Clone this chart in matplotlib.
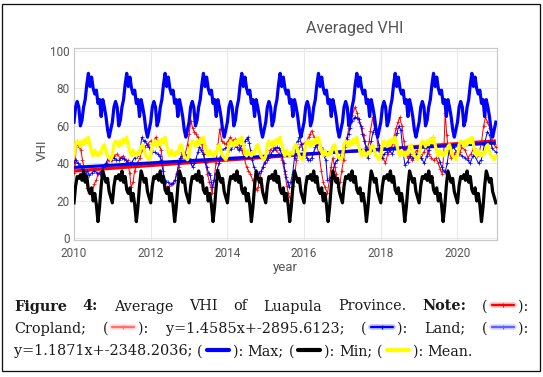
import numpy as np
import matplotlib
matplotlib.use("Agg")
import matplotlib.pyplot as plt
from matplotlib.lines import Line2D
from matplotlib.patches import Rectangle

# ---------------- data ----------------
years_start = 2010
n_years = 11
steps_per_year = 24

# one-year profiles (the chart repeats them every year)
max_profile = [62, 70, 73, 70, 60, 63, 70, 74, 82, 88, 81, 86,
               80, 77, 79, 72, 74, 65, 74, 70, 65, 58, 54, 58]
min_profile = [19, 28, 33, 32, 34, 31, 36, 30, 33, 26, 24, 27,
               20, 24, 18, 9, 17, 28, 36, 33, 30, 32, 25, 22]
mean_profile = [44, 50, 52, 51, 49, 52, 50, 53, 51, 54, 50, 46,
                44, 47, 45, 44, 46, 45, 49, 50, 47, 44, 43, 42]

land_years = [2010.00, 2010.05, 2010.10, 2010.16, 2010.21, 2010.26, 2010.30, 2010.35, 2010.40, 2010.47,
              2010.53, 2010.60, 2010.67, 2010.72, 2010.76, 2010.83, 2010.90, 2010.97, 2011.04, 2011.10,
              2011.17, 2011.24, 2011.31, 2011.38, 2011.45, 2011.52, 2011.58, 2011.65, 2011.72, 2011.77,
              2011.82, 2011.86, 2011.91, 2011.95, 2012.00, 2012.04, 2012.11, 2012.18, 2012.23, 2012.27,
              2012.32, 2012.36, 2012.41, 2012.45, 2012.52, 2012.59, 2012.64, 2012.68, 2012.73, 2012.77,
              2012.82, 2012.86, 2012.93, 2013.00, 2013.05, 2013.09, 2013.14, 2013.18, 2013.23, 2013.27,
              2013.32, 2013.37, 2013.42, 2013.46, 2013.51, 2013.55, 2013.58, 2013.61, 2013.65, 2013.69,
              2013.74, 2013.78, 2013.83, 2013.87, 2013.94, 2014.01, 2014.05, 2014.10, 2014.17, 2014.24,
              2014.29, 2014.33, 2014.40, 2014.46, 2014.50, 2014.53, 2014.57, 2014.60, 2014.65, 2014.69,
              2014.74, 2014.78, 2014.83, 2014.88, 2014.93, 2014.97, 2015.02, 2015.06, 2015.13, 2015.20,
              2015.25, 2015.29, 2015.34, 2015.38, 2015.43, 2015.47, 2015.50, 2015.53, 2015.57, 2015.61,
              2015.65, 2015.70, 2015.75, 2015.79, 2015.84, 2015.88, 2015.93, 2015.97, 2016.02, 2016.07,
              2016.11, 2016.16, 2016.20, 2016.25, 2016.29, 2016.34, 2016.39, 2016.43, 2016.48, 2016.52,
              2016.57, 2016.61, 2016.66, 2016.70, 2016.75, 2016.80, 2016.87, 2016.94, 2017.00, 2017.07,
              2017.11, 2017.16, 2017.20, 2017.25, 2017.30, 2017.34, 2017.39, 2017.43, 2017.48, 2017.52,
              2017.57, 2017.61, 2017.66, 2017.70, 2017.75, 2017.80, 2017.85, 2017.90, 2017.95, 2018.03,
              2018.08, 2018.15, 2018.22, 2018.30, 2018.36, 2018.42, 2018.47, 2018.52, 2018.57, 2018.63,
              2018.70, 2018.77, 2018.85, 2018.92, 2019.00, 2019.06, 2019.13, 2019.20, 2019.25, 2019.31,
              2019.36, 2019.42, 2019.48, 2019.54, 2019.59, 2019.64, 2019.68, 2019.73, 2019.78, 2019.85,
              2019.90, 2019.97, 2020.05, 2020.12, 2020.20, 2020.27, 2020.33, 2020.40, 2020.45, 2020.55,
              2020.62, 2020.70, 2020.78, 2020.84, 2020.90, 2021.00]
land_vhi = [41, 42, 40, 39, 37, 35, 34.5, 36, 33.6, 35,
            36, 35, 34.5, 36, 38, 40, 43, 42, 43, 42,
            41.6, 43, 42.5, 41, 40, 41, 43, 44, 47, 54,
            52, 52, 50, 48.7, 47, 46, 46, 45, 44, 41.6,
            36, 31, 30, 30, 29, 29.5, 31, 34.5, 40, 43,
            44, 45, 44, 43, 40, 38, 40, 42.5, 46, 48.7,
            47, 45, 41, 38, 35, 33.6, 30, 27.4, 31, 34.5,
            37, 40, 44, 47, 48, 48.7, 47, 47.8, 49, 48.7,
            47, 48, 50, 52, 53, 54, 51, 47, 42, 38,
            36, 34.5, 35, 36, 38, 40, 42, 43, 45, 47,
            48, 48.7, 48, 47, 44, 40, 36, 32.7, 30, 27.4,
            30, 34.5, 43, 50.4, 52, 54, 50.4, 47, 45, 43,
            41.6, 42, 43, 46, 48.7, 50, 50.4, 49, 47, 44,
            41.6, 31, 31, 32.7, 36, 40, 42, 43, 47, 50.4,
            53, 55.8, 59, 62.8, 64, 64.6, 64, 63.7, 60, 55.8,
            52, 48.7, 43, 46, 52, 57, 59, 55.8, 50, 43,
            45, 46, 47, 45, 48, 56, 60, 58, 48, 39,
            41, 44, 43, 45, 45, 43, 40, 44, 47, 51,
            54, 50, 45, 41, 38, 36, 35.4, 40, 47, 48,
            48.7, 46, 45, 44, 43, 41.6, 40, 44, 44, 40,
            42, 50, 57, 55, 48, 46]

crop_years = [2010.00, 2010.03, 2010.06, 2010.09, 2010.12, 2010.15, 2010.18, 2010.22, 2010.26, 2010.30,
              2010.35, 2010.40, 2010.44, 2010.48, 2010.53, 2010.58, 2010.63, 2010.70, 2010.76, 2010.83,
              2010.90, 2010.95, 2011.00, 2011.05, 2011.12, 2011.20, 2011.28, 2011.35, 2011.40, 2011.45,
              2011.49, 2011.54, 2011.58, 2011.65, 2011.72, 2011.77, 2011.84, 2011.92, 2012.00, 2012.06,
              2012.13, 2012.18, 2012.22, 2012.27, 2012.32, 2012.36, 2012.42, 2012.48, 2012.55, 2012.63,
              2012.68, 2012.73, 2012.78, 2012.82, 2012.90, 2012.96, 2013.00, 2013.05, 2013.09, 2013.13,
              2013.18, 2013.23, 2013.28, 2013.33, 2013.38, 2013.43, 2013.48, 2013.53, 2013.57, 2013.60,
              2013.65, 2013.70, 2013.76, 2013.80, 2013.85, 2013.90, 2013.96, 2014.02, 2014.08, 2014.14,
              2014.19, 2014.24, 2014.30, 2014.37, 2014.44, 2014.50, 2014.55, 2014.60, 2014.66, 2014.72,
              2014.76, 2014.80, 2014.85, 2014.92, 2014.98, 2015.06, 2015.12, 2015.20, 2015.27, 2015.35,
              2015.43, 2015.50, 2015.55, 2015.59, 2015.65, 2015.70, 2015.75, 2015.80, 2015.88, 2015.95,
              2016.03, 2016.07, 2016.12, 2016.16, 2016.20, 2016.26, 2016.32, 2016.39, 2016.45, 2016.50,
              2016.54, 2016.61, 2016.66, 2016.70, 2016.75, 2016.80, 2016.84, 2016.89, 2016.94, 2016.98,
              2017.03, 2017.07, 2017.12, 2017.17, 2017.22, 2017.26, 2017.33, 2017.38, 2017.44, 2017.50,
              2017.55, 2017.58, 2017.64, 2017.70, 2017.73, 2017.79, 2017.84, 2017.88, 2017.94, 2018.00,
              2018.06, 2018.12, 2018.18, 2018.25, 2018.30, 2018.36, 2018.40, 2018.45, 2018.49, 2018.55,
              2018.60, 2018.63, 2018.70, 2018.75, 2018.81, 2018.87, 2018.94, 2019.00, 2019.06, 2019.12,
              2019.18, 2019.25, 2019.32, 2019.38, 2019.44, 2019.50, 2019.55, 2019.60, 2019.64, 2019.68,
              2019.72, 2019.76, 2019.83, 2019.92, 2020.00, 2020.06, 2020.12, 2020.20, 2020.27, 2020.35,
              2020.42, 2020.50, 2020.57, 2020.63, 2020.68, 2020.73, 2020.78, 2020.84, 2020.90, 2020.95,
              2021.00]
crop_vhi = [35, 40, 50, 52, 49, 51, 47, 42, 38, 31,
            27, 24, 24, 25, 29, 31, 34.5, 36, 37, 38,
            41.6, 43, 42, 44, 45, 43, 44, 42, 41.6, 35,
            27.4, 30, 36, 40, 43, 47, 48.7, 50.4, 52, 51,
            54, 52, 50, 47, 40, 28, 27.4, 28, 29, 31,
            35, 38, 43, 46, 45, 50, 55.8, 62.8, 59, 57,
            55.8, 54, 52, 50.4, 45, 40, 34.5, 30, 27.4, 24,
            31, 40, 50.4, 58.4, 52, 51, 50.4, 52, 54, 52,
            53, 52, 50, 47, 43, 38, 36, 34.5, 31, 27,
            26, 27.4, 32.7, 38, 41, 43, 47, 48.7, 47, 45,
            41.6, 34.5, 28, 24, 20.4, 28, 32.7, 41.6, 48.7, 50.4,
            51, 52, 54, 55.8, 57.5, 54, 50, 45, 36, 30,
            27.4, 24, 32, 38, 43, 38, 34.5, 27.4, 30, 36,
            42, 48.7, 54, 59, 63, 66, 70, 67, 62, 59,
            55, 52, 47, 52, 57.5, 64.6, 58, 55.8, 47, 45,
            43, 40, 45, 47, 50.4, 55, 59, 62, 64.6, 60,
            52, 47, 43, 45, 41.6, 45, 47, 45, 43, 46,
            48.7, 45, 43, 41.6, 43, 40, 37, 34.5, 45, 67,
            55, 47, 43, 45, 47, 46, 48.7, 47, 43, 45,
            48, 44, 46, 52, 60, 64.6, 62, 59, 52, 50.4,
            48.7]

# regression lines given in the caption: y = slope * x + intercept
crop_slope, crop_intercept = 1.4585, -2895.6123
land_slope, land_intercept = 1.1871, -2348.2036
trend_years = [2010.0, 2021.0]

x_ticks = [2010, 2012, 2014, 2016, 2018, 2020]
y_ticks = [0, 20, 40, 60, 80, 100]

# ---------------- figure ----------------
W, H = 543, 377
DPI = 100
fig = plt.figure(figsize=(W / DPI, H / DPI), dpi=DPI)
fig.patch.set_facecolor("white")

def fx(px):
    return px / W

def fy(py):
    return 1 - py / H

ax = fig.add_axes([fx(74), fy(240), fx(497) - fx(74), fy(48) - fy(240)])

t_prof = years_start + np.arange(n_years * steps_per_year + 1) / steps_per_year
def full_series(profile):
    return np.concatenate([np.tile(profile, n_years), profile[:1]])

px_lw = 72.0 / DPI  # points per pixel

ax.plot(crop_years, crop_vhi, color="#ff0000", lw=1.0 * px_lw, marker="+", ms=2.5,
        mew=0.5, zorder=3)
tr = np.array(trend_years)
ax.plot(tr, crop_slope * tr + crop_intercept, color="#ff0000", lw=3.2 * px_lw, zorder=4,
        solid_capstyle="butt")
ax.plot(land_years, land_vhi, color="#0000ff", lw=1.0 * px_lw, marker="+", ms=2.5,
        mew=0.5, zorder=5)
ax.plot(tr, land_slope * tr + land_intercept, color="#0000ff", lw=3.2 * px_lw, zorder=6,
        solid_capstyle="butt")
ax.plot(t_prof, full_series(max_profile), color="#0000ff", lw=3.2 * px_lw, zorder=7)
ax.plot(t_prof, full_series(min_profile), color="#000000", lw=3.2 * px_lw, zorder=8)
ax.plot(t_prof, full_series(mean_profile), color="#ffff00", lw=3.2 * px_lw, zorder=9)

ax.set_xlim(2010.0, 2021.03)
ax.set_ylim(-0.8, 101.5)
ax.set_xticks(x_ticks)
ax.set_yticks(y_ticks)
ax.grid(True, color="#e8e8e8", lw=1.0 * px_lw, zorder=0)
ax.set_axisbelow(True)
for s in ax.spines.values():
    s.set_color("#c8c8c8")
    s.set_linewidth(1.2 * px_lw)
tick_font = ["Roboto", "DejaVu Sans"]
ax.tick_params(axis="x", length=0, pad=5, labelsize=8.5, labelcolor="#555555")
ax.tick_params(axis="y", length=0, pad=3, labelsize=8.5, labelcolor="#555555")
for lab in ax.get_xticklabels() + ax.get_yticklabels():
    lab.set_family(tick_font)

fig.text(fx(42), fy(150), "VHI", rotation=90, ha="center", va="center", fontsize=9.5,
         color="#555555", family=tick_font)
fig.text(fx(285), fy(268), "year", ha="center", va="center", fontsize=9.5,
         color="#555555", family=tick_font)
fig.text(fx(355), fy(29), "Averaged VHI", ha="center", va="center", fontsize=11.5,
         color="#555555", family=tick_font)

# outer frame
fig.patches.append(Rectangle((fx(2), fy(371)), fx(540) - fx(2), fy(4) - fy(371),
                             transform=fig.transFigure, fill=False, ec="#111111",
                             lw=1.3 * px_lw, zorder=20))

# ---------------- caption ----------------
cap_font = "DejaVu Serif"
cap_size = 10.4
renderer = fig.canvas.get_renderer()

SYM = {
    "crop": dict(color="#ff0000", lw=1.6, marker=True, glow=True),
    "crop_tr": dict(color="#ff7070", lw=1.6, marker=True, glow=True),
    "land": dict(color="#0000ff", lw=1.6, marker=True, glow=True),
    "land_tr": dict(color="#6060ff", lw=1.6, marker=True, glow=True),
    "max": dict(color="#0000ff", lw=3.0, marker=False, glow=False),
    "min": dict(color="#000000", lw=3.0, marker=False, glow=False),
    "mean": dict(color="#ffff00", lw=3.0, marker=False, glow=False),
}
SYM_W = 30  # px

def text_width(s, weight):
    t = fig.text(0, 0, s, fontsize=cap_size, family=cap_font, fontweight=weight)
    w = t.get_window_extent(renderer).width
    t.remove()
    return w

def token_width(tok):
    w = 0
    for part in tok:
        if part[0] == "sym":
            w += SYM_W
        else:
            w += text_width(part[1], part[2])
    return w

def draw_token(tok, x, y):
    for part in tok:
        if part[0] == "sym":
            st = SYM[part[1]]
            x0, x1 = x + 4, x + SYM_W - 4
            if st["glow"]:
                fig.add_artist(Line2D([fx(x0), fx(x1)], [fy(y), fy(y)], color=st["color"],
                                      lw=4.0, alpha=0.25, transform=fig.transFigure,
                                      solid_capstyle="round"))
            fig.add_artist(Line2D([fx(x0), fx(x1)], [fy(y), fy(y)], color=st["color"],
                                  lw=st["lw"], transform=fig.transFigure,
                                  solid_capstyle="round"))
            if st["marker"]:
                fig.add_artist(Line2D([fx((x0 + x1) / 2)], [fy(y)], color=st["color"],
                                      marker="+", ms=3, mew=0.8, transform=fig.transFigure))
            x += SYM_W
        else:
            fig.text(fx(x), fy(y), part[1], fontsize=cap_size, family=cap_font,
                     fontweight=part[2], ha="left", va="center_baseline", color="#1a1a1a")
            x += text_width(part[1], part[2])

def T(s, w="normal"):
    return ("txt", s, w)

def S(name):
    return ("sym", name)

lines = [
    ([[T("Figure", "bold")], [T("4:", "bold")], [T("Average")], [T("VHI")], [T("of")],
      [T("Luapula")], [T("Province.")], [T("Note:", "bold")], [T("("), S("crop"), T("):")]], True),
    ([[T("Cropland;")], [T("("), S("crop_tr"), T("):")], [T("y=1.4585x+-2895.6123;")],
      [T("("), S("land"), T("):")], [T("Land;")], [T("("), S("land_tr"), T("):")]], True),
    ([[T("y=1.1871x+-2348.2036;")], [T("("), S("max"), T("):")], [T("Max;")],
      [T("("), S("min"), T("):")], [T("Min;")], [T("("), S("mean"), T("):")], [T("Mean.")]], False),
]
line_y = [305, 327, 350]
x_left, x_right = 14, 528
space_w = text_width("a a", "normal") - text_width("aa", "normal")

for (toks, justify), y in zip(lines, line_y):
    widths = [token_width(t) for t in toks]
    if justify:
        gap = (x_right - x_left - sum(widths)) / (len(toks) - 1)
    else:
        gap = space_w
    x = x_left
    for tok, w in zip(toks, widths):
        draw_token(tok, x, y)
        x += w + gap

fig.savefig("out.png", dpi=DPI)
